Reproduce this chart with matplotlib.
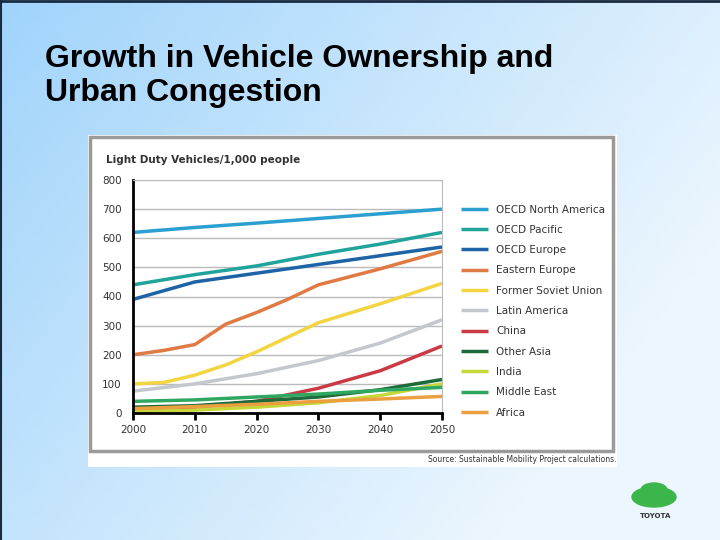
import numpy as np
import matplotlib.pyplot as plt
from matplotlib.patches import Rectangle, Ellipse

years = [2000, 2010, 2020, 2030, 2040, 2050]
years_fine = [2000, 2005, 2010, 2015, 2020, 2025, 2030, 2040, 2050]

north_america = [620, 637, 652, 668, 684, 700]
oecd_pacific = [440, 475, 505, 545, 580, 620]
oecd_europe = [390, 450, 480, 510, 540, 570]
eastern_europe = [200, 215, 235, 305, 345, 390, 440, 495, 555]
former_soviet = [100, 105, 130, 165, 210, 260, 310, 375, 445]
latin_america = [75, 100, 135, 180, 240, 320]
china = [10, 20, 40, 85, 145, 230]
other_asia = [20, 25, 40, 55, 80, 115]
india = [5, 10, 20, 35, 60, 100]
middle_east = [40, 45, 55, 65, 78, 88]
africa = [15, 22, 30, 40, 48, 57]

series = [
    ("OECD North America", years, north_america, "#2a9fd0"),
    ("OECD Pacific", years, oecd_pacific, "#1fa39a"),
    ("OECD Europe", years, oecd_europe, "#1e63a6"),
    ("Eastern Europe", years_fine, eastern_europe, "#e07a45"),
    ("Former Soviet Union", years_fine, former_soviet, "#f2d540"),
    ("Latin America", years, latin_america, "#c4c8cc"),
    ("China", years, china, "#c93a45"),
    ("Other Asia", years, other_asia, "#1d6a3a"),
    ("India", years, india, "#c4d83a"),
    ("Middle East", years, middle_east, "#2ea860"),
    ("Africa", years, africa, "#eba040"),
]

fig = plt.figure(figsize=(7.2, 5.4), dpi=100)

# slide background gradient (blue on the left, paler to the right and bottom)
bg = fig.add_axes([0, 0, 1, 1])
gx, gy = np.meshgrid(np.linspace(0, 1, 200), np.linspace(0, 1, 150))
t = np.clip(0.8 * gx + 0.45 * gy, 0, 1)
c0 = np.array([160, 212, 251]) / 255
c1 = np.array([236, 246, 254]) / 255
img = c0[None, None, :] * (1 - t[..., None]) + c1[None, None, :] * t[..., None]
bg.imshow(img, aspect='auto', extent=[0, 1, 0, 1], origin='upper')
bg.set_xlim(0, 1)
bg.set_ylim(0, 1)
bg.axis('off')
bg.plot([0, 1], [0.999, 0.999], color='#1a2a40', lw=2)
bg.plot([0.001, 0.001], [0, 1], color='#1a2a40', lw=1.5)

fig.text(45 / 720, 1 - 76 / 540, "Growth in Vehicle Ownership and\nUrban Congestion",
         fontsize=23, family='Liberation Sans', fontweight='bold', va='center', ha='left',
         linespacing=1.2, color='black')

# chart picture area
bg.add_patch(Rectangle((88 / 720, 1 - 467 / 540), (617 - 88) / 720, (467 - 135) / 540,
                       facecolor='white', edgecolor='none'))
bg.add_patch(Rectangle((90 / 720, 1 - 451 / 540), (613 - 90) / 720, (451 - 137) / 540,
                       facecolor='white', edgecolor='#9a9a9a', lw=2.5))
fig.text(616 / 720, 1 - 460 / 540, "Source: Sustainable Mobility Project calculations.",
         fontsize=5.5, ha='right', va='center', color='#333333')
fig.text(106 / 720, 1 - 160 / 540, "Light Duty Vehicles/1,000 people",
         fontsize=7.5, ha='left', va='center', color='#333333', fontweight='bold')

# toyota logo
bg.add_patch(Ellipse((654 / 720, 1 - 497 / 540), 44 / 720, 20 / 540, color='#3cb54a'))
bg.add_patch(Ellipse((654 / 720, 1 - 490 / 540), 26 / 720, 14 / 540, color='#3cb54a'))
fig.text(656 / 720, 1 - 516 / 540, "TOYOTA", fontsize=5, ha='center', va='center',
         fontweight='bold', color='#333333')

ax = fig.add_axes([133 / 720, 1 - 413 / 540, (442 - 133) / 720, (413 - 180) / 540])
for name, xs, ys, col in series:
    ax.plot(xs, ys, color=col, lw=2.5, label=name, solid_capstyle='butt')

ax.set_xlim(2000, 2050)
ax.set_ylim(0, 800)
ax.set_xticks([2000, 2010, 2020, 2030, 2040, 2050])
ax.set_yticks(range(0, 801, 100))
ax.grid(axis='y', color='#bbbbbb', lw=1)
ax.set_axisbelow(True)
for s in ['top', 'right']:
    ax.spines[s].set_color('#bbbbbb')
ax.spines['left'].set_linewidth(2)
ax.spines['bottom'].set_linewidth(2)
ax.tick_params(axis='y', length=0, labelsize=7.5, labelcolor='#333333', pad=8)
ax.tick_params(axis='x', length=5, width=2, labelsize=7.5, labelcolor='#333333')

ax.legend(loc='upper left', bbox_to_anchor=(1.03, 0.935), frameon=False, fontsize=7.5,
          handlelength=2.6, handletextpad=0.8, labelspacing=0.99, labelcolor='#333333')

fig.savefig("out.png", dpi=100)
